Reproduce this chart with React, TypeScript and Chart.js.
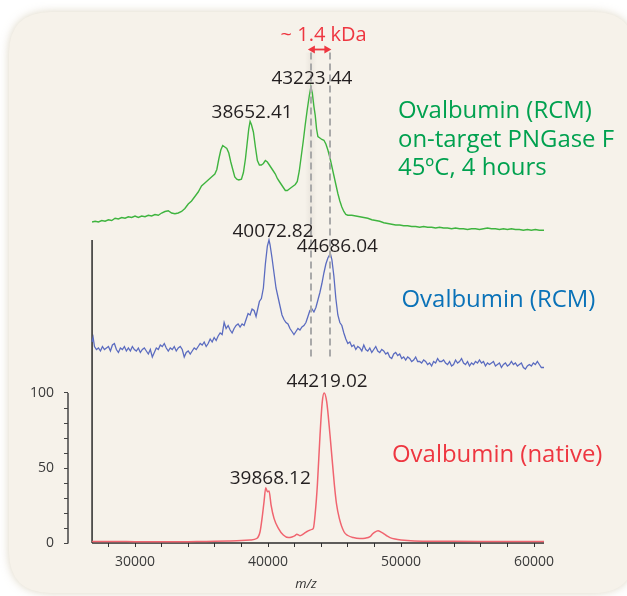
import React, { useEffect, useRef } from 'react';
import { Chart, registerables } from 'chart.js';

Chart.register(...registerables);

// ---------- axis ranges ----------
const X_MIN = 24960;
const X_MAX = 60750;
const Y_MAX = 340;
const SPECTRUM_START = 26770;

const xTickValues = [28000, 30000, 32000, 34000, 36000, 38000, 40000, 42000, 44000, 46000, 48000, 50000, 52000, 54000, 56000, 58000, 60000];
const xLabelValues = [30000, 40000, 50000, 60000];
const yTickValues = [0, 10, 20, 30, 40, 50, 60, 70, 80, 90, 100];
const yLabelValues = [0, 50, 100];

// ---------- spectra: [m/z, stacked intensity] ----------
const nativeSpectrum: [number, number][] = [
  [26770, 1], [28000, 1], [30000, 0.9], [32000, 0.8], [34000, 0.9], [35000, 1], [36000, 1.1], [37000, 1.3],
  [38000, 1.6], [38650, 2], [39150, 3], [39400, 7.5], [39550, 16.4], [39700, 27.5], [39830, 36.9],
  [39950, 34.2], [40075, 34.7], [40230, 25.3], [40450, 16.4], [40780, 9.8], [41150, 5.3], [41530, 3.6],
  [41800, 4], [42030, 4.9], [42160, 5.8], [42400, 4.9], [42700, 6.3], [42900, 7.5], [43150, 8.6],
  [43310, 9.1], [43410, 9.8], [43550, 20], [43710, 38.7], [43910, 72], [44080, 94.2], [44219, 100],
  [44410, 94.2], [44660, 72], [44990, 38.7], [45150, 26], [45360, 16.4], [45710, 7.5], [46000, 5],
  [46410, 3.6], [46900, 3], [47300, 3.2], [47670, 4.2], [47850, 6], [48000, 7.1], [48270, 8.2],
  [48500, 7.3], [48670, 6.4], [48900, 5], [49170, 3.6], [49550, 2.6], [50000, 2], [51000, 1.4],
  [53000, 1.2], [56000, 1], [60750, 1],
];

const rcmSpectrum: [number, number][] = [
  [26770, 134], [26850, 137], [26950, 131], [27100, 129], [27250, 130], [27400, 128], [27550, 131],
  [27700, 129], [27850, 130], [28000, 131], [28150, 128], [28300, 132], [28450, 133], [28600, 129],
  [28750, 127], [28900, 130], [29050, 129], [29200, 131], [29350, 128], [29500, 130], [29650, 128],
  [29800, 131], [29950, 129], [30100, 128], [30250, 130], [30400, 127], [30550, 129], [30700, 130],
  [30850, 128], [31000, 126], [31150, 129], [31300, 124], [31450, 127], [31600, 130], [31750, 129],
  [31900, 132], [32050, 131], [32200, 133], [32350, 130], [32500, 128], [32650, 130], [32800, 129],
  [32950, 131], [33100, 128], [33250, 130], [33400, 131], [33550, 129], [33700, 124], [33850, 127],
  [34000, 128], [34150, 126], [34300, 128], [34450, 130], [34600, 129], [34750, 131], [34900, 133],
  [35050, 132], [35200, 134], [35350, 131], [35500, 133], [35650, 136], [35800, 134], [35950, 137],
  [36100, 135], [36250, 138], [36400, 140], [36550, 139], [36700, 147], [36850, 143], [37000, 145],
  [37150, 142], [37300, 140], [37450, 143], [37600, 145], [37750, 146], [37900, 144], [38050, 146],
  [38200, 145], [38350, 149], [38500, 153], [38650, 152], [38800, 156], [38950, 155], [39100, 151],
  [39250, 157], [39350, 161], [39500, 163], [39650, 170], [39800, 186], [39950, 198], [40072, 202],
  [40150, 199], [40300, 190], [40450, 180], [40600, 170], [40750, 164], [40900, 158], [41050, 152],
  [41200, 149], [41350, 147], [41500, 146], [41650, 143], [41800, 141], [41950, 139], [42100, 141],
  [42250, 143], [42400, 142], [42550, 144], [42700, 145], [42850, 147], [43000, 151], [43150, 155],
  [43300, 156], [43450, 154], [43600, 157], [43750, 162], [43900, 167], [44050, 173], [44200, 180],
  [44350, 186], [44500, 190], [44686, 193], [44800, 189], [44950, 178], [45100, 163], [45250, 152],
  [45400, 147], [45550, 145], [45700, 140], [45850, 136], [46000, 133], [46150, 134], [46300, 131],
  [46450, 132], [46600, 129], [46750, 131], [46900, 130], [47050, 128], [47200, 132], [47350, 129],
  [47500, 128], [47650, 130], [47800, 127], [47950, 129], [48100, 131], [48250, 128], [48400, 127],
  [48550, 129], [48700, 128], [48850, 126], [49000, 127], [49150, 124], [49300, 123], [49450, 126],
  [49600, 127], [49750, 125], [49900, 126], [50050, 123], [50200, 124], [50350, 122], [50500, 124],
  [50650, 123], [50800, 121], [50950, 122], [51100, 124], [51250, 121], [51400, 121], [51550, 120],
  [51700, 122], [51850, 121], [52000, 119], [52150, 120], [52300, 118], [52450, 121], [52600, 120],
  [52750, 123], [52900, 121], [53050, 121], [53200, 122], [53350, 120], [53500, 119], [53650, 121],
  [53800, 118], [53950, 119], [54100, 122], [54250, 120], [54400, 121], [54550, 123], [54700, 120],
  [54850, 119], [55000, 121], [55150, 118], [55300, 120], [55450, 119], [55600, 121], [55750, 120],
  [55900, 122], [56050, 120], [56200, 121], [56350, 118], [56500, 120], [56650, 119], [56800, 120],
  [56950, 121], [57100, 118], [57250, 119], [57400, 120], [57550, 117], [57700, 119], [57850, 120],
  [58000, 118], [58150, 119], [58300, 121], [58450, 119], [58600, 120], [58750, 118], [58900, 119],
  [59050, 120], [59200, 117], [59350, 116], [59500, 118], [59650, 119], [59800, 118], [59950, 120],
  [60100, 119], [60250, 121], [60400, 119], [60550, 117], [60750, 117],
];

const pngaseSpectrum: [number, number][] = [
  [26770, 214], [27000, 214.5], [27250, 214], [27500, 215], [27750, 214.5], [28000, 215.5], [28250, 215],
  [28500, 216.5], [28750, 216], [29000, 217], [29250, 216.5], [29500, 217.5], [29750, 217], [30000, 218],
  [30250, 217], [30500, 218], [30750, 217.5], [31000, 218.5], [31250, 218], [31500, 219], [31750, 218.5],
  [32000, 220], [32250, 221], [32500, 221.5], [32750, 220], [33000, 219.5], [33250, 220], [33500, 221],
  [33750, 223], [34000, 226], [34250, 228], [34500, 231], [34750, 234], [35000, 238], [35250, 240],
  [35500, 242], [35750, 244], [36000, 246], [36150, 249], [36300, 256], [36450, 262], [36594, 265],
  [36750, 264], [36900, 263], [37050, 260], [37200, 254], [37350, 249], [37500, 244], [37650, 242.5],
  [37800, 242], [38000, 242.5], [38150, 247], [38300, 256], [38450, 268], [38550, 276], [38652, 281],
  [38750, 279], [38900, 274], [39050, 264], [39200, 255], [39350, 252], [39500, 252], [39650, 253],
  [39800, 255], [39950, 254], [40100, 252], [40250, 250], [40400, 248], [40550, 246], [40700, 243],
  [40850, 241], [41000, 239], [41150, 237], [41300, 235], [41450, 235], [41600, 236], [41750, 237],
  [41900, 238], [42050, 239], [42200, 241], [42350, 248], [42500, 258], [42650, 268], [42800, 279],
  [42950, 289], [43100, 298], [43223, 304], [43330, 300], [43450, 291], [43550, 285], [43650, 276],
  [43750, 271], [43900, 270], [44050, 269], [44200, 268.5], [44350, 266], [44500, 262], [44650, 257],
  [44800, 251], [44950, 245], [45100, 239], [45250, 233], [45400, 228], [45550, 224], [45700, 221],
  [45850, 219], [46000, 218.5], [46300, 218.5], [46600, 218], [46900, 217.5], [47200, 217], [47500, 216.5],
  [47800, 215.5], [48100, 215], [48400, 214.5], [48700, 213.5], [49000, 213], [49300, 212.5], [49600, 212],
  [49900, 212], [50200, 211.5], [50500, 211.5], [50800, 211], [51100, 211], [51400, 210.5], [51700, 211],
  [52000, 210.5], [52300, 210.5], [52600, 210], [52900, 210.5], [53200, 210], [53500, 210], [53800, 209.5],
  [54100, 210], [54400, 209.5], [54700, 209.5], [55000, 209], [55300, 209.5], [55600, 209.5], [55900, 209],
  [56200, 209.5], [56500, 210], [56800, 209.5], [57100, 209.5], [57400, 209], [57700, 209.5], [58000, 209],
  [58300, 209.5], [58600, 209], [58900, 209], [59200, 208.5], [59500, 209], [59800, 208.5], [60100, 209],
  [60400, 208.5], [60750, 208.5],
];

// ---------- peak annotations ----------
const peakLabels = ['43223.44', '38652.41', '40072.82', '44686.04', '44219.02', '39868.12'];
const peakMz = [43223.44, 38652.41, 40072.82, 44686.04, 44219.02, 39868.12];
const peakIntensity = [304, 281, 202, 193, 100, 36.9];
const peakLabelShiftX = [1, 2, 4, 7, 3, 4];
const peakLabelShiftY = [3, 4, 3, 2, 6, 4];

// dashed guide lines (m/z) and their vertical extent (stacked intensity)
const guideMz = [43223.44, 44686.04];
const guideTop = 327;
const guideBottom = 124;
const shiftLabel = '~ 1.4 kDa';

const pngaseLabel = ['Ovalbumin (RCM)', 'on-target PNGase F', '45ºC, 4 hours'];
const rcmLabel = 'Ovalbumin (RCM)';
const nativeLabel = 'Ovalbumin (native)';

const FONT = '"Open Sans", "Noto Sans", sans-serif';
const GREEN_LINE = '#3fb43f';
const BLUE_LINE = '#5b6cc0';
const RED_LINE = '#f0646f';
const GREEN_TEXT = '#00a14f';
const BLUE_TEXT = '#0a72b8';
const RED_TEXT = '#ee3640';
const AXIS = '#2a2a2a';

const toPoints = (s: [number, number][]) => s.map(([x, y]) => ({ x, y }));

function fitSize(ctx: CanvasRenderingContext2D, text: string, target: number) {
  ctx.font = `100px ${FONT}`;
  return (100 * target) / ctx.measureText(text).width;
}

const decorPlugin = {
  id: 'decor',
  beforeDraw(chart: any) {
    const { ctx, width, height } = chart;
    ctx.save();
    ctx.fillStyle = '#ffffff';
    ctx.fillRect(0, 0, width, height);
    const x = 9, y = 12, w = 626, h = 581, r = 42;
    ctx.beginPath();
    ctx.moveTo(x + r, y);
    ctx.lineTo(x + w - r, y);
    ctx.quadraticCurveTo(x + w, y, x + w, y + r);
    ctx.lineTo(x + w, y + h - r);
    ctx.quadraticCurveTo(x + w, y + h, x + w - r, y + h);
    ctx.lineTo(x + r, y + h);
    ctx.quadraticCurveTo(x, y + h, x, y + h - r);
    ctx.lineTo(x, y + r);
    ctx.quadraticCurveTo(x, y, x + r, y);
    ctx.closePath();
    ctx.shadowColor = 'rgba(205,195,170,0.7)';
    ctx.shadowBlur = 10;
    ctx.fillStyle = '#f6f2ea';
    ctx.fill();
    ctx.restore();

    // soft glow behind the first guide line
    const xs = chart.scales.x;
    const ys = chart.scales.y;
    const gx = xs.getPixelForValue(guideMz[0]);
    const gTop = ys.getPixelForValue(guideTop);
    const gBot = ys.getPixelForValue(205);
    ctx.save();
    const grad = ctx.createLinearGradient(gx - 6, 0, gx + 6, 0);
    grad.addColorStop(0, 'rgba(120,110,100,0)');
    grad.addColorStop(0.5, 'rgba(120,110,100,0.09)');
    grad.addColorStop(1, 'rgba(120,110,100,0)');
    ctx.fillStyle = grad;
    ctx.fillRect(gx - 6, gTop, 12, gBot - gTop);
    ctx.restore();
  },
  beforeDatasetsDraw(chart: any) {
    const { ctx } = chart;
    const xs = chart.scales.x;
    const ys = chart.scales.y;
    const x0 = xs.getPixelForValue(SPECTRUM_START);
    const x1 = xs.getPixelForValue(X_MAX);
    const yb = ys.getPixelForValue(0);
    ctx.save();
    ctx.strokeStyle = AXIS;
    ctx.lineWidth = 1.5;
    // x axis line
    ctx.beginPath();
    ctx.moveTo(x0, yb);
    ctx.lineTo(x1, yb);
    ctx.stroke();
    // spectrum frame line
    ctx.beginPath();
    ctx.moveTo(x0, yb);
    ctx.lineTo(x0, ys.getPixelForValue(202));
    ctx.stroke();
    // intensity axis (0-100)
    const ax = chart.chartArea.left;
    ctx.strokeStyle = '#444';
    ctx.lineWidth = 1.5;
    ctx.beginPath();
    ctx.moveTo(ax, ys.getPixelForValue(0) + 0.5);
    ctx.lineTo(ax, ys.getPixelForValue(100));
    ctx.stroke();
    ctx.restore();
  },
  afterDatasetsDraw(chart: any) {
    const { ctx } = chart;
    const xs = chart.scales.x;
    const ys = chart.scales.y;
    ctx.save();
    // dashed guides
    ctx.strokeStyle = '#a9a9a9';
    ctx.lineWidth = 2;
    ctx.setLineDash([7, 4]);
    guideMz.forEach((m) => {
      const gx = Math.round(xs.getPixelForValue(m));
      ctx.beginPath();
      ctx.moveTo(gx, ys.getPixelForValue(guideTop));
      ctx.lineTo(gx, ys.getPixelForValue(guideBottom));
      ctx.stroke();
    });
    ctx.setLineDash([]);

    // double arrow
    const ax0 = xs.getPixelForValue(guideMz[0]) - 3;
    const ax1 = xs.getPixelForValue(guideMz[1]) + 1;
    const ay = ys.getPixelForValue(guideTop) - 3;
    ctx.strokeStyle = RED_TEXT;
    ctx.fillStyle = RED_TEXT;
    ctx.lineWidth = 1.8;
    ctx.beginPath();
    ctx.moveTo(ax0 + 5, ay);
    ctx.lineTo(ax1 - 5, ay);
    ctx.stroke();
    ctx.beginPath();
    ctx.moveTo(ax0, ay);
    ctx.lineTo(ax0 + 7, ay - 4);
    ctx.lineTo(ax0 + 7, ay + 4);
    ctx.closePath();
    ctx.fill();
    ctx.beginPath();
    ctx.moveTo(ax1, ay);
    ctx.lineTo(ax1 - 7, ay - 4);
    ctx.lineTo(ax1 - 7, ay + 4);
    ctx.closePath();
    ctx.fill();

    ctx.textAlign = 'center';
    ctx.textBaseline = 'alphabetic';
    ctx.font = `20px ${FONT}`;
    ctx.fillText(shiftLabel, (ax0 + ax1) / 2 + 4, ay - 9);

    // peak labels
    ctx.fillStyle = '#231f20';
    ctx.font = `19px ${FONT}`;
    peakLabels.forEach((t, i) => {
      const px = xs.getPixelForValue(peakMz[i]) + peakLabelShiftX[i];
      const py = ys.getPixelForValue(peakIntensity[i]) - peakLabelShiftY[i];
      ctx.fillText(t, px, py);
    });

    // series labels
    ctx.textAlign = 'left';
    const size = fitSize(ctx, pngaseLabel[0], 194);
    ctx.font = `${size}px ${FONT}`;
    ctx.fillStyle = GREEN_TEXT;
    const gBase = [118, 147, 175];
    pngaseLabel.forEach((t, i) => ctx.fillText(t, 398, gBase[i]));
    ctx.fillStyle = BLUE_TEXT;
    ctx.fillText(rcmLabel, 401.5, 307);
    ctx.fillStyle = RED_TEXT;
    ctx.fillText(nativeLabel, 392, 461.5);
    ctx.restore();
  },
};

export default function App() {
  const ref = useRef<HTMLCanvasElement>(null);
  useEffect(() => {
    if (!ref.current) return;
    const chart = new Chart(ref.current, {
      type: 'line',
      data: {
        datasets: [
          { label: 'PNGase F', data: toPoints(pngaseSpectrum), borderColor: GREEN_LINE, borderWidth: 1.4, pointRadius: 0, tension: 0 },
          { label: 'RCM', data: toPoints(rcmSpectrum), borderColor: BLUE_LINE, borderWidth: 1.3, pointRadius: 0, tension: 0 },
          { label: 'native', data: toPoints(nativeSpectrum), borderColor: RED_LINE, borderWidth: 1.5, pointRadius: 0, cubicInterpolationMode: 'monotone' },
        ],
      },
      plugins: [decorPlugin],
      options: {
        responsive: false,
        animation: false,
        devicePixelRatio: 1,
        layout: { padding: { left: 0, right: 83, top: 33, bottom: 0 } },
        plugins: { legend: { display: false }, tooltip: { enabled: false } },
        scales: {
          x: {
            type: 'linear',
            min: X_MIN,
            max: X_MAX,
            afterBuildTicks: (s: any) => { s.ticks = xTickValues.map((v) => ({ value: v })); },
            afterFit: (s: any) => { s.height = 53; },
            border: { display: false },
            grid: { drawOnChartArea: false, drawTicks: true, tickLength: 4, color: '#333', lineWidth: 1 },
            ticks: {
              autoSkip: false,
              maxRotation: 0,
              padding: 7,
              color: '#3a3a3a',
              font: { family: FONT, size: 14 },
              callback: (v: any) => (xLabelValues.includes(Number(v)) ? String(v) : ''),
            },
            title: {
              display: true,
              text: 'm/z',
              color: '#333',
              font: { family: FONT, size: 13, style: 'italic' },
              padding: { top: 0, bottom: 4 },
            },
          },
          y: {
            type: 'linear',
            min: 0,
            max: Y_MAX,
            afterBuildTicks: (s: any) => { s.ticks = yTickValues.map((v) => ({ value: v })); },
            afterFit: (s: any) => { s.width = 68; },
            border: { display: false },
            grid: { drawOnChartArea: false, drawTicks: true, tickLength: 4, color: '#444', lineWidth: 1 },
            ticks: {
              autoSkip: false,
              padding: 10,
              color: '#3a3a3a',
              font: { family: FONT, size: 14 },
              callback: (v: any) => (yLabelValues.includes(Number(v)) ? String(v) : ''),
            },
          },
        },
      },
    } as any);
    return () => chart.destroy();
  }, []);
  return (
    <div style={{ position: 'fixed', left: 0, top: 0, width: 627, height: 596, background: '#fff' }}>
      <canvas ref={ref} width={627} height={596} style={{ display: 'block', width: 627, height: 596 }} />
    </div>
  );
}
